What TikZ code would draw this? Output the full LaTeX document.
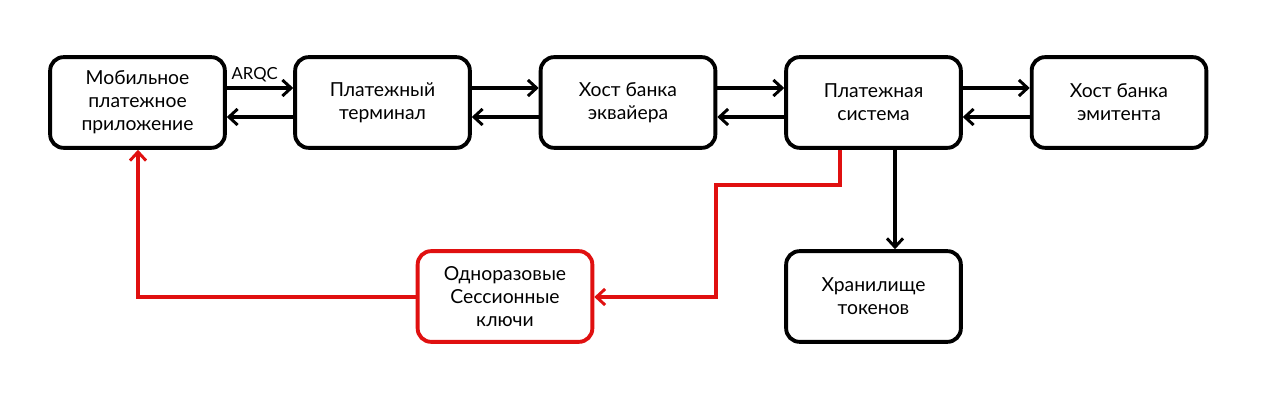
\documentclass[tikz,border=0pt]{standalone}
\usepackage{fontspec}
\setmainfont{Lato}
\usetikzlibrary{arrows.meta}
\definecolor{kred}{RGB}{224,16,16}
\begin{document}
\begin{tikzpicture}[x=0.75pt,y=-0.75pt,
  box/.style={draw=black,line width=2.9pt,rounded corners=10pt,minimum width=131pt,minimum height=68pt,align=center,font=\fontsize{14.5}{17.3}\selectfont,inner sep=0pt},
  redbox/.style={box,draw=kred},
  conn/.style={line width=2.6pt,-{Straight Barb[length=6.5pt,width=12pt,line width=2.2pt]}},
  redconn/.style={conn,draw=kred,color=kred}]
\useasboundingbox (0,0) rectangle (1280,402);
\fill[white] (0,0) rectangle (1280,402);
\node[box] (app) at (137.5,102.5) {Мобильное\\платежное\\приложение};
\node[box] (term) at (382.5,102.5) {Платежный\\терминал};
\node[box] (acq) at (628,102.5) {Хост банка\\эквайера};
\node[box] (ps) at (873.5,102.5) {Платежная\\система};
\node[box] (iss) at (1119,102.5) {Хост банка\\эмитента};
\node[redbox] (keys) at (505,296.5) {Одноразовые\\Сессионные\\ключи};
\node[box] (tok) at (873.5,296.5) {Хранилище\\токенов};
% forward / back arrows
\draw[conn] (app.east|-0,88) -- node[above,font=\fontsize{12.5}{14}\selectfont,pos=0.42,yshift=0pt]{ARQC} (term.west|-0,88);
\draw[conn] (term.west|-0,117) -- (app.east|-0,117);
\draw[conn] (term.east|-0,88) -- (acq.west|-0,88);
\draw[conn] (acq.west|-0,117) -- (term.east|-0,117);
\draw[conn] (acq.east|-0,88) -- (ps.west|-0,88);
\draw[conn] (ps.west|-0,117) -- (acq.east|-0,117);
\draw[conn] (ps.east|-0,88) -- (iss.west|-0,88);
\draw[conn] (iss.west|-0,117) -- (ps.east|-0,117);
% to token storage
\draw[conn] (ps.south-|895,0) -- (tok.north-|895,0);
% red paths
\coordinate (r1) at (840,185);
\coordinate (r2) at (716,185);
\coordinate (r3) at (716,297);
\draw[redconn] (ps.south-|840,0) -- (r1) -- (r2) -- (r3) -- (keys.east|-0,297);
\coordinate (r4) at (138,297);
\draw[redconn] (keys.west|-0,297) -- (r4) -- (app.south-|138,0);
\end{tikzpicture}
\end{document}
